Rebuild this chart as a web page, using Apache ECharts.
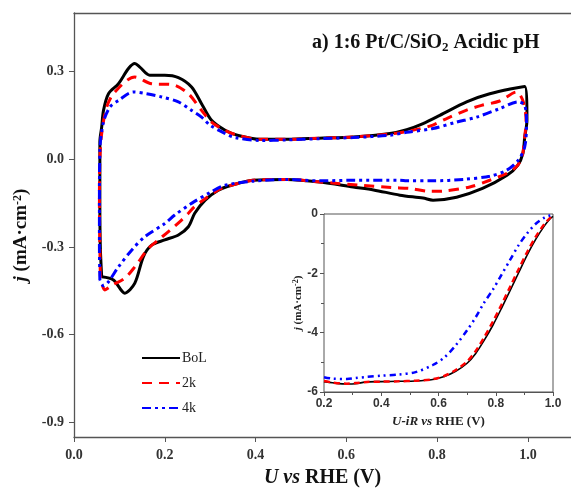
<!DOCTYPE html>
<html>
<head>
<meta charset="utf-8">
<script src="https://cdn.jsdelivr.net/npm/echarts@6/dist/echarts.min.js"></script>
<style>html,body{margin:0;padding:0;background:#fff}#c{width:571px;height:488px}</style>
</head>
<body>
<div id="c"></div>
<script>
// ---- CV data (potential V, current density mA cm^-2), closed loops ----
const bolU = [0.061,0.058,0.057,0.057,0.057,0.061,0.065,0.076,0.098,0.120,0.134,0.145,0.167,0.200,0.230,0.259,0.281,0.303,0.333,0.360,0.410,0.470,0.540,0.615,0.696,0.733,0.769,0.806,0.865,0.916,0.993,0.998,0.993,0.989,0.978,0.954,0.900,0.843,0.791,0.769,0.718,0.660,0.615,0.542,0.469,0.394,0.347,0.318,0.289,0.266,0.252,0.230,0.200,0.171,0.153,0.134,0.112,0.087,0.061];
const bolJ = [-0.402,-0.300,-0.150,0.008,0.060,0.110,0.167,0.224,0.258,0.310,0.327,0.315,0.287,0.287,0.279,0.247,0.190,0.133,0.099,0.082,0.068,0.068,0.072,0.076,0.088,0.101,0.122,0.150,0.196,0.224,0.249,0.133,0.075,0.020,-0.020,-0.055,-0.100,-0.130,-0.140,-0.133,-0.123,-0.105,-0.095,-0.078,-0.069,-0.072,-0.089,-0.106,-0.140,-0.185,-0.231,-0.259,-0.276,-0.294,-0.333,-0.424,-0.458,-0.413,-0.402];
const k2U = [0.058,0.057,0.056,0.057,0.061,0.072,0.090,0.134,0.171,0.217,0.252,0.281,0.303,0.333,0.360,0.410,0.470,0.540,0.615,0.696,0.740,0.784,0.821,0.865,0.898,0.938,0.975,0.990,0.996,0.993,0.987,0.975,0.954,0.916,0.872,0.813,0.784,0.740,0.700,0.630,0.542,0.469,0.394,0.347,0.318,0.289,0.265,0.252,0.237,0.210,0.186,0.164,0.134,0.112,0.085,0.068,0.058];
const k2J = [-0.400,-0.300,-0.150,0.000,0.088,0.178,0.230,0.281,0.258,0.255,0.224,0.167,0.127,0.098,0.082,0.068,0.068,0.072,0.076,0.086,0.097,0.113,0.139,0.168,0.184,0.199,0.230,0.196,0.130,0.076,0.007,-0.025,-0.048,-0.072,-0.095,-0.109,-0.110,-0.100,-0.097,-0.089,-0.078,-0.069,-0.072,-0.089,-0.105,-0.135,-0.163,-0.185,-0.208,-0.245,-0.276,-0.305,-0.368,-0.407,-0.430,-0.447,-0.400];
const k4U = [0.057,0.056,0.056,0.057,0.065,0.079,0.098,0.131,0.160,0.193,0.230,0.259,0.281,0.300,0.333,0.355,0.410,0.468,0.540,0.615,0.696,0.733,0.791,0.843,0.887,0.938,0.979,0.993,0.997,0.993,0.979,0.953,0.916,0.858,0.791,0.733,0.718,0.615,0.542,0.468,0.395,0.333,0.303,0.259,0.222,0.200,0.156,0.127,0.098,0.076,0.065,0.057];
const k4J = [-0.413,-0.300,-0.150,0.031,0.127,0.178,0.201,0.230,0.224,0.213,0.196,0.167,0.144,0.116,0.088,0.074,0.064,0.066,0.070,0.074,0.082,0.092,0.105,0.127,0.144,0.173,0.196,0.184,0.122,0.042,-0.003,-0.038,-0.058,-0.069,-0.074,-0.074,-0.072,-0.072,-0.074,-0.069,-0.075,-0.089,-0.111,-0.151,-0.191,-0.220,-0.265,-0.311,-0.368,-0.419,-0.433,-0.413];

// ---- LSV inset data ----
const lsvU   = [0.20,0.23,0.28,0.31,0.35,0.40,0.46,0.52,0.58,0.62,0.66,0.70,0.73,0.76,0.79,0.82,0.85,0.88,0.91,0.94,0.97,0.99,1.00];
const lsvBoL = [-5.65,-5.69,-5.73,-5.72,-5.66,-5.65,-5.64,-5.63,-5.58,-5.48,-5.30,-5.03,-4.70,-4.25,-3.75,-3.18,-2.58,-1.98,-1.38,-0.85,-0.40,-0.16,-0.08];
const lsv2k  = [-5.63,-5.68,-5.72,-5.70,-5.66,-5.65,-5.64,-5.62,-5.57,-5.46,-5.26,-4.97,-4.62,-4.15,-3.63,-3.06,-2.46,-1.86,-1.28,-0.76,-0.34,-0.13,-0.07];
const lsv4k  = [-5.50,-5.55,-5.56,-5.53,-5.49,-5.45,-5.41,-5.33,-5.09,-4.84,-4.43,-3.92,-3.48,-2.98,-2.55,-2.05,-1.55,-1.05,-0.65,-0.33,-0.12,-0.05,-0.04];

// ---- axis ticks ----
const mainXTicks = [0, 0.2, 0.4, 0.6, 0.8, 1.0];
const mainYTicks = [-0.9, -0.6, -0.3, 0, 0.3];

const zip = (a, b) => a.map((v, i) => [v, b[i]]);
const SERIF = '"Liberation Serif", "Times New Roman", serif';
const SANS = '"Liberation Sans", Arial, sans-serif';
const AX = '#555';

const chart = echarts.init(document.getElementById('c'), null, {renderer: 'canvas'});
const dashDot2 = [9, 4, 3, 4, 3, 4];

chart.setOption({
  animation: false,
  backgroundColor: '#fff',
  title: {
    text: 'a) 1:6 Pt/C/SiO{sub|2} Acidic pH',
    left: 307, top: 26,
    textStyle: {
      fontFamily: SERIF, fontWeight: 'bold', fontSize: 20, color: '#111',
      rich: { sub: {fontFamily: SERIF, fontWeight: 'bold', fontSize: 13, verticalAlign: 'bottom', padding: [10,0,0,0], color:'#111'} }
    }
  },
  graphic: [{
    type: 'text', left: 344, top: 231,
    style: {text: 'b)', font: 'bold 16px ' + SERIF, fill: '#111'}
  }],
  legend: {
    data: ['BoL', '2k', '4k'],
    orient: 'vertical', left: 136, top: 346,
    itemWidth: 38, itemHeight: 14, itemGap: 11,
    itemStyle: {color: 'rgba(0,0,0,0)', borderWidth: 0, opacity: 0},
    textStyle: {fontFamily: SERIF, fontSize: 14, color: '#222', padding: [0,0,0,-3]}
  },
  grid: [
    {left: 74, top: 13, width: 497, height: 424, show: false, outerBoundsMode: 'none', containLabel: false},
    {left: 324, top: 214, width: 229, height: 178, show: true, borderColor: AX, borderWidth: 1, backgroundColor: '#fff', z: 5, outerBoundsMode: 'none', containLabel: false}
  ],
  xAxis: [
    {
      gridIndex: 0, type: 'value', min: 0, max: 1.095,
      axisLine: {show: true, onZero: false, lineStyle: {color: AX, width: 1.3}},
      axisTick: {show: true, length: 5, lineStyle: {color: AX}, customValues: mainXTicks},
      axisLabel: {customValues: mainXTicks, formatter: v => v.toFixed(1), margin: 11,
        fontFamily: SERIF, fontWeight: 'bold', fontSize: 14, color: '#333'},
      splitLine: {show: false},
      name: '{i|U} {i|vs} RHE (V)', nameLocation: 'middle', nameGap: 31,
      nameTextStyle: {fontFamily: SERIF, fontWeight: 'bold', fontSize: 20, color: '#111',
        rich: {i: {fontFamily: SERIF, fontWeight: 'bold', fontStyle: 'italic', fontSize: 20, color: '#111'}}}
    },
    {
      gridIndex: 0, type: 'value', min: 0, max: 1.095, position: 'top',
      axisLine: {show: true, onZero: false, lineStyle: {color: AX, width: 1.3}},
      axisTick: {show: false}, axisLabel: {show: false}, splitLine: {show: false}
    },
    {
      gridIndex: 1, type: 'value', min: 0.2, max: 1.0, interval: 0.2,
      axisLine: {show: true, onZero: false, lineStyle: {color: AX, width: 1}},
      axisTick: {show: true, length: 4, lineStyle: {color: AX}},
      minorTick: {show: true, splitNumber: 2, length: 3, lineStyle: {color: AX}},
      axisLabel: {formatter: v => v.toFixed(1), margin: 6,
        fontFamily: SANS, fontWeight: 'bold', fontSize: 12, color: '#333'},
      splitLine: {show: false},
      name: '{i|U-iR} {i|vs} RHE (V)', nameLocation: 'middle', nameGap: 23,
      nameTextStyle: {fontFamily: SERIF, fontWeight: 'bold', fontSize: 13, color: '#222',
        rich: {i: {fontFamily: SERIF, fontWeight: 'bold', fontStyle: 'italic', fontSize: 13, color: '#222'}}}
    }
  ],
  yAxis: [
    {
      gridIndex: 0, type: 'value', min: -0.95, max: 0.5,
      axisLine: {show: true, onZero: false, lineStyle: {color: AX, width: 1.3}},
      axisTick: {show: true, length: 5, lineStyle: {color: AX}, customValues: mainYTicks},
      axisLabel: {customValues: mainYTicks, formatter: v => v.toFixed(1), margin: 10,
        fontFamily: SERIF, fontWeight: 'bold', fontSize: 14, color: '#333'},
      splitLine: {show: false},
      name: '{i|j} (mA·cm{sup|-2})', nameLocation: 'middle', nameGap: 32,
      nameTextStyle: {fontFamily: SERIF, fontWeight: 'bold', fontSize: 19, color: '#111', padding: [0,0,0,-20],
        rich: {
          i: {fontFamily: SERIF, fontWeight: 'bold', fontStyle: 'italic', fontSize: 19, color: '#111'},
          sup: {fontFamily: SERIF, fontWeight: 'bold', fontSize: 12, verticalAlign: 'top', padding: [0,0,8,0], color: '#111'}
        }}
    },
    {
      gridIndex: 1, type: 'value', min: -6, max: 0, interval: 2,
      axisLine: {show: true, onZero: false, lineStyle: {color: AX, width: 1}},
      axisTick: {show: true, length: 4, lineStyle: {color: AX}},
      minorTick: {show: true, splitNumber: 2, length: 3, lineStyle: {color: AX}},
      axisLabel: {formatter: v => String(v), margin: 6,
        fontFamily: SANS, fontWeight: 'bold', fontSize: 12, color: '#333'},
      splitLine: {show: false},
      name: '{i|j} (mA·cm{sup|-2})', nameLocation: 'middle', nameGap: 20,
      nameTextStyle: {fontFamily: SERIF, fontWeight: 'bold', fontSize: 11, color: '#222',
        rich: {
          i: {fontFamily: SERIF, fontWeight: 'bold', fontStyle: 'italic', fontSize: 11, color: '#222'},
          sup: {fontFamily: SERIF, fontWeight: 'bold', fontSize: 8, verticalAlign: 'top', color: '#222'}
        }}
    }
  ],
  series: [
    {name: 'BoL', type: 'line', xAxisIndex: 0, yAxisIndex: 0, data: zip(bolU, bolJ), symbol: 'none', smooth: 0.3,
      lineStyle: {color: '#000', width: 3}, itemStyle: {color: '#000'}, z: 3},
    {name: '2k', type: 'line', xAxisIndex: 0, yAxisIndex: 0, data: zip(k2U, k2J), symbol: 'none', smooth: 0.3,
      lineStyle: {color: '#f00', width: 3, type: [10, 7]}, itemStyle: {color: '#f00'}, z: 4},
    {name: '4k', type: 'line', xAxisIndex: 0, yAxisIndex: 0, data: zip(k4U, k4J), symbol: 'none', smooth: 0.3,
      lineStyle: {color: '#00f', width: 3, type: dashDot2}, itemStyle: {color: '#00f'}, z: 5},
    {name: 'BoL-b', type: 'line', xAxisIndex: 2, yAxisIndex: 1, data: zip(lsvU, lsvBoL), symbol: 'none', smooth: 0.3,
      lineStyle: {color: '#000', width: 1.6}, z: 10},
    {name: '2k-b', type: 'line', xAxisIndex: 2, yAxisIndex: 1, data: zip(lsvU, lsv2k), symbol: 'none', smooth: 0.3,
      lineStyle: {color: '#f00', width: 2.5, type: [6, 4]}, z: 11},
    {name: '4k-b', type: 'line', xAxisIndex: 2, yAxisIndex: 1, data: zip(lsvU, lsv4k), symbol: 'none', smooth: 0.3,
      lineStyle: {color: '#00f', width: 2.5, type: [6, 4, 2, 4, 2, 4]}, z: 12}
  ]
});
</script>
</body>
</html>
